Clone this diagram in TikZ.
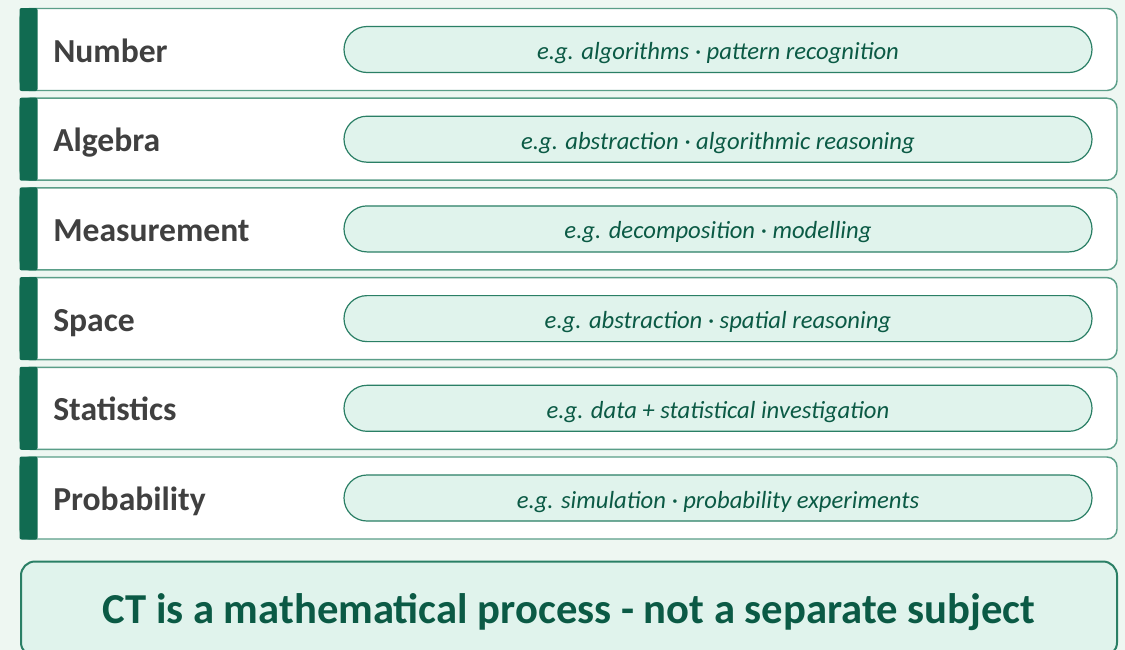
\documentclass[tikz,border=0pt]{standalone}
\usepackage{fontspec}
\setmainfont{Carlito}
\definecolor{ctbg}{HTML}{EEF7F2}
\definecolor{ctdark}{HTML}{116B51}
\definecolor{ctline}{HTML}{5A9E88}
\definecolor{ctpill}{HTML}{E0F3EC}
\definecolor{ctpilldraw}{HTML}{2A7F65}
\definecolor{cttext}{HTML}{0B5A45}
\definecolor{ctgray}{HTML}{404040}
\begin{document}
\begin{tikzpicture}[x=0.75pt, y=-0.75pt,
  rowbox/.style={draw=ctline, line width=1.1pt, fill=white, rounded corners=7.5pt,
    minimum width=1097*0.75pt, minimum height=82*0.75pt, inner sep=0pt},
  rowbar/.style={fill=ctdark, rounded corners=1.5pt, anchor=west,
    minimum width=18*0.75pt, minimum height=83*0.75pt, inner sep=0pt},
  rowlabel/.style={anchor=base west, inner sep=0pt, text=ctgray,
    font=\fontsize{25.2}{30}\selectfont\bfseries},
  pill/.style={draw=ctpilldraw, line width=0.9pt, fill=ctpill, rounded corners=17.25pt,
    minimum width=748*0.75pt, minimum height=46*0.75pt, inner sep=0pt,
    text height=15pt, text depth=0pt, text=cttext, font=\fontsize{18.5}{22}\selectfont\itshape},
  notebox/.style={draw=ctpilldraw, line width=1.5pt, fill=ctpill, rounded corners=10.5pt,
    minimum width=1096*0.75pt, minimum height=95*0.75pt, inner sep=0pt},
  notetext/.style={inner sep=0pt, text height=21pt, text depth=0pt, text=cttext,
    font=\fontsize{32}{36}\selectfont\bfseries}]
  % 背景
  \useasboundingbox (0,0) rectangle (1125,650);
  \clip (0,0) rectangle (1125,650);
  \fill[ctbg] (0,0) rectangle (1125,650);

  % 各行
  \foreach \lab/\ex [count=\i from 0] in {
      Number/{e.g. algorithms · pattern recognition},
      Algebra/{e.g. abstraction · algorithmic reasoning},
      Measurement/{e.g. decomposition · modelling},
      Space/{e.g. abstraction · spatial reasoning},
      Statistics/{e.g. data + statistical investigation},
      Probability/{e.g. simulation · probability experiments}} {
    \pgfmathsetmacro\yc{49.5+89.7*\i}
    \node[rowbox] (row\i) at (568.5,\yc) {};
    \node[rowbar] (bar\i) at (row\i.west) {};
    \node[rowlabel] (lab\i) at (53,\yc+12.5) {\lab};
    \node[pill] (ex\i) at (718,\yc) {\ex};
  }

  % 结论
  \node[notebox] (note) at (569,609) {};
  \node[notetext] (notetxt) at (note.center) {CT is a mathematical process - not a separate subject};
\end{tikzpicture}
\end{document}
